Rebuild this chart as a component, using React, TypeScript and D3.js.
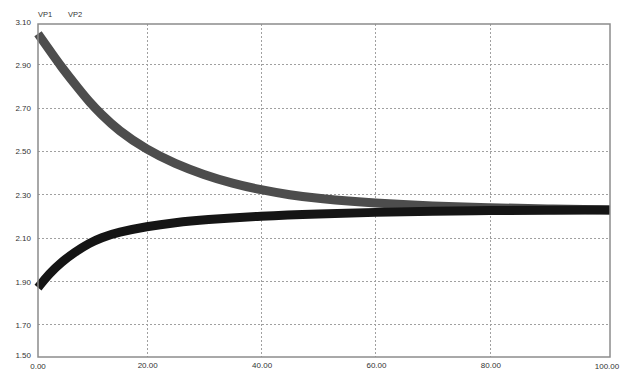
import { useRef, useEffect } from 'react';
import * as d3 from 'd3';

// series
const vp1X = [1, 3, 5, 8, 10, 12, 15, 20, 25, 30, 35, 40, 45, 50, 60, 70, 80, 90, 101];
const vp1Y = [3.04, 2.965, 2.89, 2.79, 2.725, 2.67, 2.595, 2.505, 2.44, 2.39, 2.35, 2.32, 2.297, 2.28, 2.258, 2.245, 2.238, 2.232, 2.228];

const vp2X = [1, 3, 5, 7.5, 10, 12, 15, 20, 25, 30, 40, 50, 60, 70, 80, 90, 101];
const vp2Y = [1.87, 1.935, 1.985, 2.035, 2.075, 2.1, 2.125, 2.152, 2.17, 2.183, 2.2, 2.21, 2.217, 2.222, 2.225, 2.227, 2.228];

const seriesNames = ['VP1', 'VP2'];
const xTicks = [20, 40, 60, 80];
const yTicks = [2.9, 2.7, 2.5, 2.3, 2.1, 1.9, 1.7];
const xEndLabels = ['0.00', '100.00'];
const yEndLabels = ['3.10', '1.50'];

const W = 622;
const H = 371;

const App = () => {
  const ref = useRef<SVGSVGElement>(null);

  useEffect(() => {
    const svg = d3.select(ref.current);
    svg.selectAll('*').remove();

    const left = 38, right = 610, top = 24, bottom = 357;
    const font = '"Liberation Sans", Arial, sans-serif';

    const x = d3.scaleLinear().domain([1, 101]).range([left, right]);
    const y = d3.scaleLinear().domain([1.55, 3.085]).range([bottom, top]);

    svg.append('rect').attr('width', W).attr('height', H).attr('fill', '#fff');

    // grid
    svg.append('g').selectAll('line')
      .data(yTicks)
      .enter().append('line')
      .attr('x1', left).attr('x2', right)
      .attr('y1', d => Math.round(y(d)) + 0.5).attr('y2', d => Math.round(y(d)) + 0.5)
      .attr('stroke', '#a0a0a0').attr('stroke-dasharray', '2,2');

    svg.append('g').selectAll('line')
      .data(xTicks)
      .enter().append('line')
      .attr('y1', top).attr('y2', bottom)
      .attr('x1', d => Math.round(x(d)) + 0.5).attr('x2', d => Math.round(x(d)) + 0.5)
      .attr('stroke', '#a0a0a0').attr('stroke-dasharray', '2,2');

    // curves
    const line = d3.line<[number, number]>()
      .x(d => x(d[0]))
      .y(d => y(d[1]))
      .curve(d3.curveBasis);

    const vp1 = vp1X.map((v, i) => [v, vp1Y[i]] as [number, number]);
    const vp2 = vp2X.map((v, i) => [v, vp2Y[i]] as [number, number]);

    svg.append('path')
      .attr('d', line(vp1))
      .attr('fill', 'none')
      .attr('stroke', '#4d4d4d')
      .attr('stroke-width', 9);

    svg.append('path')
      .attr('d', line(vp2))
      .attr('fill', 'none')
      .attr('stroke', '#151515')
      .attr('stroke-width', 9);

    // frame
    svg.append('rect')
      .attr('x', left).attr('y', top)
      .attr('width', right - left).attr('height', bottom - top)
      .attr('fill', 'none')
      .attr('stroke', '#8c8c8c')
      .attr('stroke-width', 1.5);

    // y labels
    const yl = svg.append('g')
      .attr('font-family', font).attr('font-size', 8).attr('fill', '#333')
      .attr('text-anchor', 'end');
    yl.selectAll('text.t')
      .data(yTicks)
      .enter().append('text')
      .attr('x', 31)
      .attr('y', d => y(d) + 3.5)
      .text(d => d.toFixed(2));
    yl.append('text').attr('x', 31).attr('y', top + 1).text(yEndLabels[0]);
    yl.append('text').attr('x', 31).attr('y', bottom + 1).text(yEndLabels[1]);

    // x labels
    const xl = svg.append('g')
      .attr('font-family', font).attr('font-size', 8).attr('fill', '#333')
      .attr('text-anchor', 'middle');
    xl.selectAll('text.t')
      .data(xTicks)
      .enter().append('text')
      .attr('x', d => x(d) + 1)
      .attr('y', 368)
      .text(d => d.toFixed(2));
    xl.append('text').attr('x', left).attr('y', 369).text(xEndLabels[0]);
    xl.append('text').attr('x', right - 3).attr('y', 369).text(xEndLabels[1]);

    // series names
    svg.append('g')
      .attr('font-family', font).attr('font-size', 7.5).attr('fill', '#333')
      .selectAll('text')
      .data(seriesNames)
      .enter().append('text')
      .attr('x', (d, i) => left + i * 30)
      .attr('y', 17)
      .text(d => d);
  }, []);

  return (
    <svg ref={ref} width={W} height={H} style={{ position: 'absolute', left: 0, top: 0 }}></svg>
  );
};

export default App;
